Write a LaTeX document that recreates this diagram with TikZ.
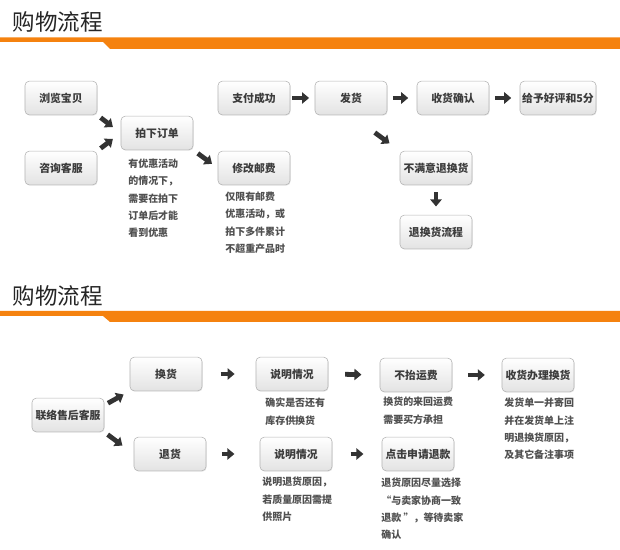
\documentclass[tikz,border=0pt]{standalone}
\usepackage{fontspec}
\setmainfont{Noto Sans CJK SC}
\usetikzlibrary{arrows.meta,shadows}
\definecolor{bannerOrange}{HTML}{F5820F}
\definecolor{boxGray}{HTML}{B4B4B4}
\definecolor{textGray}{HTML}{3C3C3C}
\definecolor{arrowDark}{HTML}{333333}

\begin{document}
\begin{tikzpicture}[x=0.025cm, y=-0.025cm,
  stepbox/.style={draw=boxGray, rounded corners=3pt, top color=white, bottom color=gray!22,
    minimum width=1.8cm, minimum height=0.84cm, inner sep=1pt,
    font=\fontsize{7.7}{9}\selectfont\bfseries, text=textGray,
    drop shadow={opacity=0.2, shadow xshift=0.4pt, shadow yshift=-0.6pt}},
  note/.style={anchor=north west, inner sep=0pt, align=left,
    font=\fontsize{7.1}{12.2}\selectfont\bfseries, text=textGray!90},
  blk/.style={-{Triangle[length=5pt,width=8pt]}, line width=3.4pt, arrowDark},
  heading/.style={anchor=west, font=\fontsize{16}{18}\selectfont, text=black!85}]
  \useasboundingbox (0,0) rectangle (620,550);

  % Top part: buying
  \node[heading] (titleTop) at (8,22) {购物流程};
  \fill[bannerOrange] (0,37.5) -- (620,37.5) -- (620,49) -- (110,49) -- (103,42) -- (0,42) -- cycle;

  \node[stepbox] (browse) at (61,98) {浏览宝贝};
  \node[stepbox] (consult) at (61,168) {咨询客服};
  \node[stepbox] (order) at (157,133) {拍下订单};
  \node[stepbox] (pay) at (254,98) {支付成功};
  \node[stepbox] (postage) at (254,168) {修改邮费};
  \node[stepbox] (ship) at (351,98) {发货};
  \node[stepbox] (receive) at (453,98) {收货确认};
  \node[stepbox, minimum width=1.9cm] (praise) at (558,98) {给予好评和5分};
  \node[stepbox] (unhappy) at (436,168) {不满意退换货};
  \node[stepbox] (refundFlow) at (436,232) {退换货流程};

  \node[note] (orderNote) at (128,159) {有优惠活动\\的情况下，\\需要在拍下\\订单后才能\\看到优惠};
  \node[note] (postageNote) at (225,192) {仅限有邮费\\优惠活动，或\\拍下多件累计\\不超重产品时};

  \draw[blk, shorten <=3pt, shorten >=7pt] (browse.south east) -- (order.west);
  \draw[blk, shorten <=3pt, shorten >=7pt] (consult.north east) -- (order.west);
  \draw[blk, shorten <=4pt, shorten >=5pt] (order.south east) -- (postage.west);
  \draw[blk, shorten <=1.5pt, shorten >=4pt] (pay.east) -- (ship.west);
  \draw[blk, shorten <=4pt, shorten >=6pt] (ship.east) -- (receive.west);
  \draw[blk, shorten <=4pt, shorten >=6pt] (receive.east) -- (praise.west);
  \draw[blk, shorten <=21pt, shorten >=9pt] (ship.south) -- (unhappy.north west);
  \draw[blk, shorten <=5pt, shorten >=6pt] (unhappy.south) -- (refundFlow.north);

  % Bottom part: after sales
  \node[heading] (titleBottom) at (8,296) {购物流程};
  \fill[bannerOrange] (0,311) -- (620,311) -- (620,322) -- (110,322) -- (103,316) -- (0,316) -- cycle;

  \node[stepbox] (contact) at (68,415) {联络售后客服};
  \node[stepbox] (exchange) at (166,374) {换货};
  \node[stepbox] (goBack) at (170,454) {退货};
  \node[stepbox] (explainA) at (292,374) {说明情况};
  \node[stepbox] (explainB) at (296,454) {说明情况};
  \node[stepbox] (noFee) at (416,375) {不抬运费};
  \node[stepbox] (apply) at (418,454) {点击申请退款};
  \node[stepbox] (swap) at (538,375) {收货办理换货};

  \node[note] (explainANote) at (265,398) {确实是否还有\\库存供换货};
  \node[note] (explainBNote) at (262,477) {说明退货原因，\\若质量原因需提\\供照片};
  \node[note] (noFeeNote) at (383,397) {换货的来回运费\\需要买方承担};
  \node[note] (applyNote) at (381,478) {退货原因尽量选择\\ “与卖家协商一致\\退款 ”，等待卖家\\确认};
  \node[note] (swapNote) at (504,398) {发货单一并寄回\\并在发货单上注\\明退换货原因，\\及其它备注事项};

  \draw[blk, shorten <=3pt, shorten >=5pt] (contact.15) -- (exchange.south west);
  \draw[blk, shorten <=3pt, shorten >=10pt] (contact.south east) -- (goBack.west);
  \draw[blk, shorten <=13pt, shorten >=15pt] (exchange.east) -- (explainA.west);
  \draw[blk, shorten <=11pt, shorten >=18pt] (goBack.east) -- (explainB.west);
  \draw[blk, shorten <=12pt, shorten >=13pt] (explainA.east) -- (noFee.west);
  \draw[blk, shorten <=13pt, shorten >=13pt] (explainB.east) -- (apply.west);
  \draw[blk, shorten <=11pt, shorten >=12pt] (noFee.east) -- (swap.west);
\end{tikzpicture}
\end{document}
